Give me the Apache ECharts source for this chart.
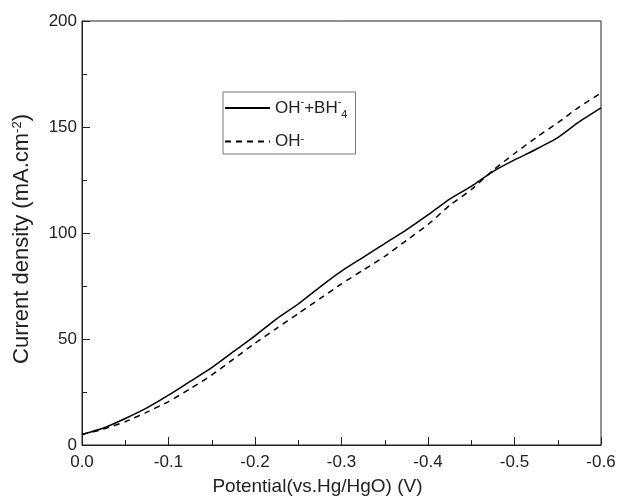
<!DOCTYPE html>
<html>
<head>
<meta charset="utf-8">
<script src="https://cdn.jsdelivr.net/npm/echarts@6/dist/echarts.min.js"></script>
<style>
html,body{margin:0;padding:0;background:#fff;}
#chart{width:623px;height:501px;}
</style>
</head>
<body>
<div id="chart"></div>
<script>
// 电位 (V)
var potential = [0, -0.025, -0.05, -0.075, -0.1, -0.125, -0.15, -0.175, -0.2, -0.225, -0.25, -0.275, -0.3,
    -0.325, -0.35, -0.375, -0.4, -0.425, -0.45, -0.475, -0.5, -0.525, -0.55, -0.575, -0.6];
// OH- + BH4-
var currentBH4 = [5, 8, 12.5, 17.5, 23.5, 30, 36.5, 44, 51.5, 59.5, 66.5, 74.5, 82,
    88.5, 95, 101.5, 108.5, 116, 122, 129, 134.5, 139.5, 145, 152.5, 159];
// OH-
var currentOH = [5, 7.5, 11, 15.5, 20.5, 26.5, 33, 40.5, 48, 55, 62, 69, 76,
    82.5, 89, 96.5, 104, 113, 120.5, 129.5, 137.5, 145, 152, 159.5, 166];
var xTicks = [0, -0.1, -0.2, -0.3, -0.4, -0.5, -0.6];
var yTicks = [0, 50, 100, 150, 200];

function pairs(xs, ys){
    var out = [];
    for(var i=0; i<xs.length; i++){
        out.push([xs[i], ys[i]]);
    }
    return out;
}

var myChart = echarts.init(document.getElementById('chart'));
var font = 'Liberation Sans, Arial, sans-serif';
var supRich = {
    sup: {fontSize: 11, verticalAlign: 'top', lineHeight: 14, fontFamily: font, color: '#222'},
    sub: {fontSize: 11, verticalAlign: 'bottom', lineHeight: 24, fontFamily: font, color: '#222'}
};

option = {
    animation: false,
    backgroundColor: '#fff',
    grid: {
        left: 82,
        top: 21,
        right: 22,
        bottom: 56,
        show: true,
        borderColor: '#222',
        borderWidth: 1
    },
    legend: {
        left: 223,
        top: 92,
        orient: 'vertical',
        borderColor: '#777',
        borderWidth: 1,
        padding: [4, 8, 4, 1],
        itemWidth: 45,
        itemHeight: 10,
        itemGap: 13,
        itemStyle: {opacity: 0},
        textStyle: {fontSize: 17, fontFamily: font, color: '#222', rich: supRich},
        formatter: function(name){
            if(name == 'a') return 'OH{sup|-}+BH{sup|-}{sub|4}';
            return 'OH{sup|-}';
        },
        data: ['a', 'b']
    },
    xAxis: {
        type: 'value',
        inverse: true,
        min: -0.6,
        max: 0,
        interval: 0.1,
        name: 'Potential(vs.Hg/HgO) (V)',
        nameLocation: 'middle',
        nameGap: 32,
        nameTextStyle: {fontSize: 19, fontFamily: font, color: '#222', padding: [0, 48, 0, 0]},
        axisLine: {lineStyle: {color: '#222', width: 1}},
        axisTick: {inside: true, length: 8, lineStyle: {color: '#222'}},
        minorTick: {show: true, splitNumber: 2, length: 5, lineStyle: {color: '#222'}},
        splitLine: {show: false},
        axisLabel: {
            fontSize: 17, fontFamily: font, color: '#222', margin: 9,
            formatter: function(v){
                if(xTicks.indexOf(Math.round(v*10)/10) < 0) return '';
                return v == 0 ? '0.0' : v.toFixed(1);
            }
        }
    },
    yAxis: {
        type: 'value',
        min: 0,
        max: 200,
        interval: 50,
        name: 'Current density (mA.cm{sup|-2})',
        nameLocation: 'middle',
        nameGap: 49,
        nameTextStyle: {fontSize: 22, fontFamily: font, color: '#222', padding: [0, 12, 0, 0], rich: {
            sup: {fontSize: 13, verticalAlign: 'top', lineHeight: 15, fontFamily: font, color: '#222'}
        }},
        axisLine: {lineStyle: {color: '#222', width: 1}},
        axisTick: {inside: true, length: 8, lineStyle: {color: '#222'}},
        minorTick: {show: true, splitNumber: 2, length: 5, lineStyle: {color: '#222'}},
        splitLine: {show: false},
        axisLabel: {
            fontSize: 17, fontFamily: font, color: '#222', margin: 5,
            formatter: function(v){
                return yTicks.indexOf(v) < 0 ? '' : String(v);
            }
        }
    },
    series: [{
        name: 'a',
        type: 'line',
        data: pairs(potential, currentBH4),
        symbol: 'none',
        smooth: 0.2,
        lineStyle: {color: '#000', width: 1.5, type: 'solid'},
        itemStyle: {color: '#000'}
    }, {
        name: 'b',
        type: 'line',
        data: pairs(potential, currentOH),
        symbol: 'none',
        smooth: 0.2,
        lineStyle: {color: '#000', width: 1.5, type: [6, 5]},
        itemStyle: {color: '#000'}
    }]
};
myChart.setOption(option, true);
</script>
</body>
</html>
